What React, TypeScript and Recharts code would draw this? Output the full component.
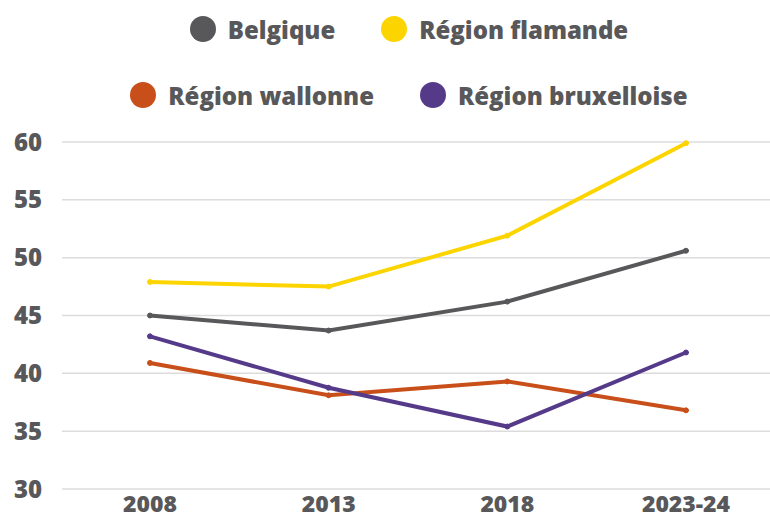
import React from 'react'
import { LineChart, Line, XAxis, YAxis, CartesianGrid } from 'recharts'

const years = ['2008', '2013', '2018', '2023-24']
const belgique = [45.0, 43.7, 46.2, 50.6]
const flamande = [47.9, 47.5, 51.9, 59.9]
const wallonne = [40.9, 38.1, 39.3, 36.8]
const bruxelloise = [43.2, 38.75, 35.4, 41.8]
const yTicks = [30, 35, 40, 45, 50, 55, 60]

const series = [
  { key: 'belgique', name: 'Belgique', color: '#58585a', values: belgique },
  { key: 'flamande', name: 'Région flamande', color: '#fcd500', values: flamande },
  { key: 'wallonne', name: 'Région wallonne', color: '#c94f1a', values: wallonne },
  { key: 'bruxelloise', name: 'Région bruxelloise', color: '#563a8a', values: bruxelloise },
]

const data = years.map((year, i) => {
  const row: Record<string, string | number> = { year }
  series.forEach((s) => { row[s.key] = s.values[i] })
  return row
})

const FONT = '"Open Sans", sans-serif'
const TEXT = '#58585a'

function LegendRows() {
  const rows = [series.slice(0, 2), series.slice(2, 4)]
  return (
    <div style={{ position: 'absolute', top: -4, left: 50, width: 718, fontFamily: FONT }}>
      {rows.map((row, r) => (
        <div
          key={r}
          style={{ display: 'flex', justifyContent: 'center', gap: 46, height: 66, alignItems: 'center' }}
        >
          {row.map((s) => (
            <div key={s.key} style={{ display: 'flex', alignItems: 'center', gap: 12 }}>
              <span style={{ width: 26, height: 26, borderRadius: 13, background: s.color, display: 'inline-block' }} />
              <span style={{ fontSize: 24, fontWeight: 800, color: TEXT }}>{s.name}</span>
            </div>
          ))}
        </div>
      ))}
    </div>
  )
}

export default function App() {
  return (
    <div style={{ position: 'absolute', left: 0, top: 0, width: 770, height: 521, background: '#fff' }}>
      <LineChart width={770} height={521} data={data} margin={{ top: 142, right: 0, bottom: 0, left: 0 }}>
        <CartesianGrid vertical={false} stroke="#dcdcdc" strokeWidth={1.5} />
        <XAxis
          dataKey="year"
          axisLine={false}
          tickLine={false}
          height={32}
          padding={{ left: 88, right: 84 }}
          tick={{ fontFamily: FONT, fontSize: 23, fontWeight: 800, fill: TEXT }}
          tickMargin={1}
        />
        <YAxis
          domain={[30, 60]}
          ticks={yTicks}
          width={62}
          axisLine={false}
          tickLine={false}
          tickMargin={14}
          tick={{ fontFamily: FONT, fontSize: 24, fontWeight: 800, fill: TEXT }}
        />
        {series.map((s) => (
          <Line
            key={s.key}
            dataKey={s.key}
            name={s.name}
            stroke={s.color}
            strokeWidth={4}
            strokeLinecap="round"
            dot={{ r: 2.5, fill: s.color, stroke: s.color, strokeWidth: 1 }}
            type="linear"
            isAnimationActive={false}
          />
        ))}
      </LineChart>
      <LegendRows />
    </div>
  )
}
